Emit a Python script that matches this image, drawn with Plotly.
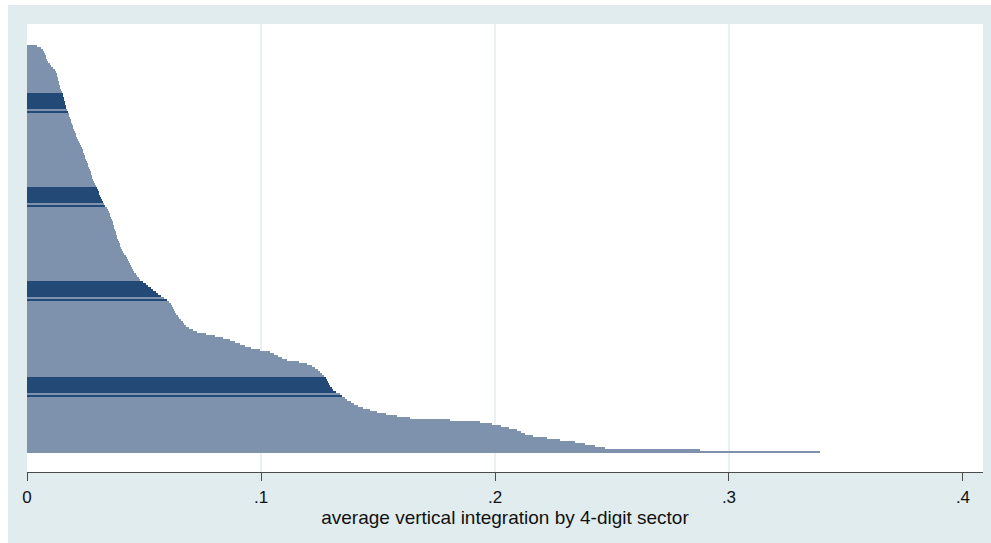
import plotly.graph_objects as go

# average vertical integration by 4-digit sector (sorted)
vert_integration = [
    0.0043, 0.0060, 0.0068, 0.0073, 0.0077, 0.0081, 0.0081, 0.0085, 0.0090, 0.0098,
    0.0103, 0.0111, 0.0120, 0.0124, 0.0128, 0.0128, 0.0132, 0.0132, 0.0137, 0.0137,
    0.0141, 0.0141, 0.0145, 0.0150, 0.0154, 0.0154, 0.0158, 0.0158, 0.0162, 0.0162,
    0.0167, 0.0167, 0.0171, 0.0175, 0.0179, 0.0179, 0.0184, 0.0188, 0.0188, 0.0192,
    0.0197, 0.0197, 0.0201, 0.0205, 0.0209, 0.0209, 0.0214, 0.0218, 0.0222, 0.0226,
    0.0231, 0.0235, 0.0239, 0.0239, 0.0244, 0.0248, 0.0248, 0.0252, 0.0256, 0.0261,
    0.0261, 0.0265, 0.0269, 0.0274, 0.0274, 0.0278, 0.0278, 0.0282, 0.0286, 0.0291,
    0.0295, 0.0299, 0.0303, 0.0308, 0.0308, 0.0312, 0.0316, 0.0321, 0.0325, 0.0329,
    0.0333, 0.0342, 0.0346, 0.0350, 0.0355, 0.0355, 0.0359, 0.0363, 0.0368, 0.0368,
    0.0372, 0.0372, 0.0376, 0.0380, 0.0380, 0.0385, 0.0385, 0.0389, 0.0393, 0.0397,
    0.0397, 0.0402, 0.0406, 0.0410, 0.0415, 0.0423, 0.0427, 0.0432, 0.0436, 0.0440,
    0.0444, 0.0449, 0.0453, 0.0457, 0.0466, 0.0470, 0.0479, 0.0483, 0.0496, 0.0509,
    0.0517, 0.0530, 0.0538, 0.0551, 0.0560, 0.0573, 0.0585, 0.0598, 0.0607, 0.0615,
    0.0620, 0.0624, 0.0628, 0.0632, 0.0637, 0.0645, 0.0650, 0.0658, 0.0667, 0.0671,
    0.0679, 0.0692, 0.0709, 0.0726, 0.0765, 0.0803, 0.0838, 0.0868, 0.0889, 0.0910,
    0.0932, 0.0957, 0.0996, 0.1038, 0.1056, 0.1073, 0.1090, 0.1111, 0.1162, 0.1197,
    0.1218, 0.1231, 0.1244, 0.1252, 0.1261, 0.1269, 0.1278, 0.1282, 0.1286, 0.1291,
    0.1295, 0.1303, 0.1308, 0.1321, 0.1338, 0.1346, 0.1359, 0.1368, 0.1385, 0.1397,
    0.1415, 0.1436, 0.1466, 0.1496, 0.1534, 0.1581, 0.1637, 0.1808, 0.1936, 0.1987,
    0.2026, 0.2060, 0.2094, 0.2111, 0.2128, 0.2162, 0.2222, 0.2278, 0.2342, 0.2385,
    0.2427, 0.2470, 0.2876, 0.3389,
]
sectors = list(range(len(vert_integration)))

# sectors drawn in the dark colour
highlighted_sectors = [24, 25, 26, 27, 28, 29, 30, 31, 33,
                       71, 72, 73, 74, 75, 76, 77, 78, 80,
                       118, 119, 120, 121, 122, 123, 124, 125, 127,
                       166, 167, 168, 169, 170, 171, 172, 173, 175]

tick_values = [0, 0.1, 0.2, 0.3, 0.4]
tick_labels = ["0", ".1", ".2", ".3", ".4"]
grid_values = [0.1, 0.2, 0.3]
x_title = "average vertical integration by 4-digit sector"

LIGHT = "#7e92ad"
DARK = "#234a76"
BG = "#e0ecee"

colors = [DARK if s in highlighted_sectors else LIGHT for s in sectors]

fig = go.Figure()
fig.add_trace(go.Bar(
    x=vert_integration, y=sectors, orientation="h",
    marker=dict(color=colors, line=dict(width=0)),
    hoverinfo="x",
))

n = len(sectors)
shapes = []
for g in grid_values:
    shapes.append(dict(type="line", xref="x", yref="paper", x0=g, x1=g, y0=0, y1=1,
                       line=dict(color="#d4e3e7", width=1), layer="below"))
# white outer border strips (top and left)
shapes.append(dict(type="rect", xref="paper", yref="paper",
                   x0=-0.0283, x1=-0.0199, y0=-0.16, y1=1.06,
                   fillcolor="white", line=dict(width=0), layer="above"))
shapes.append(dict(type="rect", xref="paper", yref="paper",
                   x0=-0.0283, x1=1.01, y0=1.0424, y1=1.06,
                   fillcolor="white", line=dict(width=0), layer="above"))

fig.update_layout(
    width=991, height=543,
    margin=dict(l=27, r=8, t=24, b=71),
    paper_bgcolor=BG, plot_bgcolor="white",
    bargap=0, showlegend=False,
    font=dict(family="Liberation Sans, Arial, sans-serif", color="#111111"),
    shapes=shapes,
    xaxis=dict(
        range=[0, 0.40855], tickvals=tick_values, ticktext=tick_labels,
        showgrid=False, zeroline=False,
        showline=True, linecolor="#4a4a4a", linewidth=1,
        ticks="outside", ticklen=8, tickcolor="#4a4a4a", tickwidth=1,
        tickfont=dict(size=17), ticklabelstandoff=2,
        title=dict(text=x_title, font=dict(size=19), standoff=0),
    ),
    yaxis=dict(
        range=[n - 0.5 + 9.5, -0.5 - 10.5],
        showticklabels=False, showgrid=False, zeroline=False, showline=False,
        ticks="",
    ),
)

fig.write_html("out.html")
